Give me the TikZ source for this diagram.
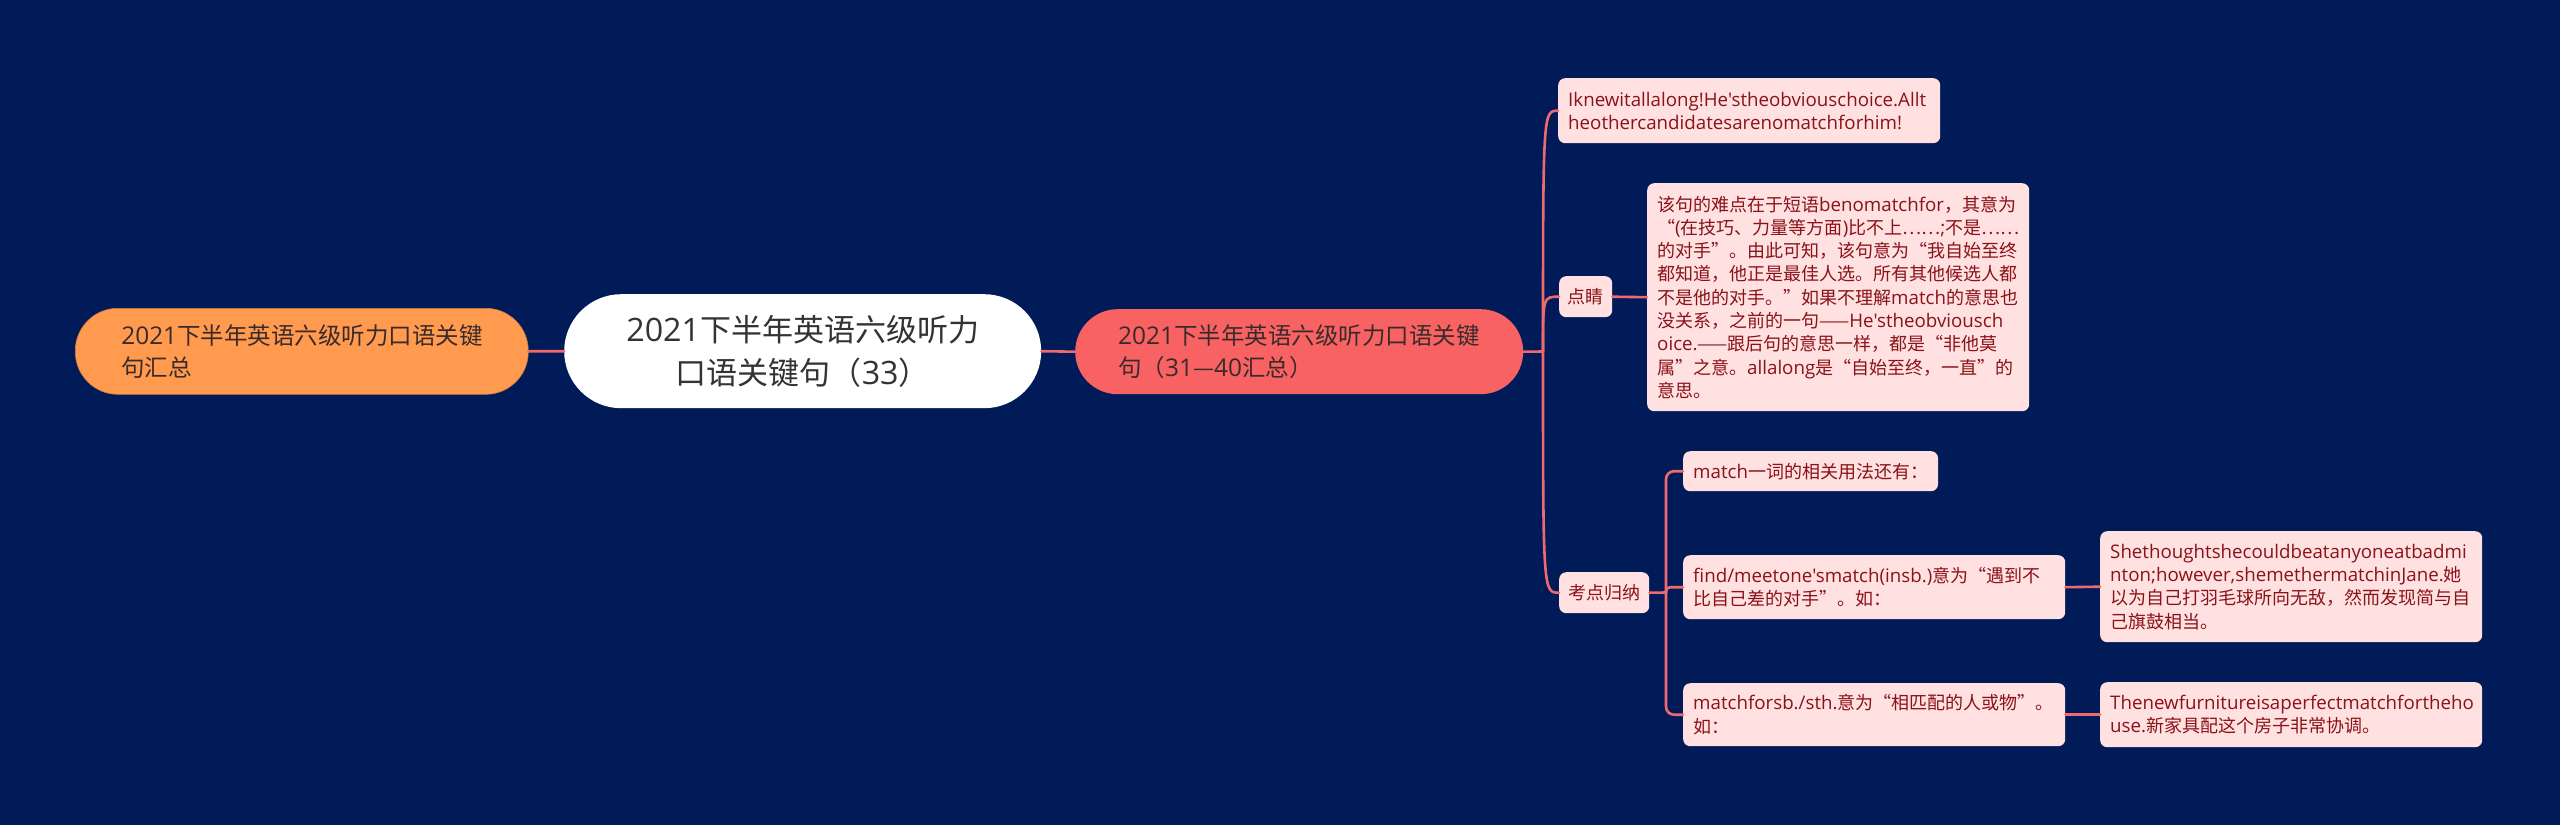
\documentclass[tikz,border=0pt]{standalone}
\usepackage{fontspec}
\setmainfont{Open Sans}[Scale=1.04, Ligatures=TeXOff]
\newfontfamily\cjkf{Noto Sans CJK SC}[Ligatures=TeXOff]
\newcommand\latf{\rmfamily}
% automatic font switch between Latin and CJK characters
\XeTeXinterchartokenstate=1
\newXeTeXintercharclass\CJKc
\newcount\clsn
\def\setcls#1#2{\clsn=#1\relax\loop\XeTeXcharclass\clsn=\CJKc\relax\advance\clsn by 1\relax\ifnum\clsn<#2\relax\repeat}
\setcls{"3000}{"3040}
\setcls{"4E00}{"A000}
\setcls{"FF00}{"FFF0}
\XeTeXcharclass"201C=\CJKc
\XeTeXcharclass"201D=\CJKc
\XeTeXcharclass"2014=\CJKc
\XeTeXcharclass"2026=\CJKc
\XeTeXinterchartoks 0 \CJKc = {\cjkf}
\XeTeXinterchartoks 4095 \CJKc = {\cjkf}
\XeTeXinterchartoks \CJKc 0 = {\latf}
\XeTeXinterchartoks \CJKc 4095 = {\latf}

\definecolor{bgc}{HTML}{011B58}
\definecolor{leafbg}{HTML}{FFE1E1}
\definecolor{leaftext}{HTML}{8A1218}
\definecolor{linec}{HTML}{F0696E}
\definecolor{orangec}{HTML}{FF9A4F}
\definecolor{redc}{HTML}{F86262}
\definecolor{maintext}{HTML}{3A2B2B}
\definecolor{centertext}{HTML}{333333}
\tikzset{
  leaf/.style={fill=leafbg, rounded corners=7pt, text=leaftext,
    font=\fontsize{18}{23.3}\selectfont, align=left,
    inner xsep=10pt, inner ysep=0pt, anchor=north west},
  pill/.style={rounded corners=42.5pt, text=maintext,
    font=\fontsize{23.5}{32}\selectfont, align=left,
    inner ysep=0pt, anchor=north west},
  conn/.style={draw=linec, line width=2.6pt, line cap=round}
}
\begin{document}
\begin{tikzpicture}[x=1pt,y=-1pt]
\fill[bgc] (0,0) rectangle (2560,825);
\useasboundingbox (0,0) rectangle (2560,825);

% main nodes
\node[pill, fill=orangec, draw=orangec!80!black, line width=0.6pt, text width=393pt, minimum height=86pt, inner xsep=30pt] (left) at (75,308)
  {\hspace*{16pt}2021下半年英语六级听力口语关键\\\hspace*{16pt}句汇总};
\node[fill=white, rounded corners=57pt, text=centertext, font=\fontsize{31}{43}\selectfont,
  align=center, text width=457pt, inner xsep=10pt, inner ysep=0pt, minimum height=114pt, anchor=north west] (center) at (564,294)
  {2021下半年英语六级听力\\口语关键句（33）};
\node[pill, fill=redc, text width=388pt, minimum height=85pt, inner xsep=30pt] (main) at (1075,309)
  {\hspace*{13pt}2021下半年英语六级听力口语关键\\\hspace*{13pt}句（31—40汇总）};

% leaves
\node[leaf, text width=362pt, minimum height=65pt] (a1) at (1558,78)
  {Iknewitallalong!He'stheobviouschoice.Allt\\heothercandidatesarenomatchforhim!};
\node[leaf, align=center, minimum height=41pt, minimum width=53pt, inner xsep=8pt] (dj) at (1559,276) {点睛};
\node[leaf, text width=362pt, minimum height=228pt] (djt) at (1647,183)
  {该句的难点在于短语benomatchfor，其意为\\
   “(在技巧、力量等方面)比不上……;不是……\\
   的对手”。由此可知，该句意为“我自始至终\\
   都知道，他正是最佳人选。所有其他候选人都\\
   不是他的对手。”如果不理解match的意思也\\
   没关系，之前的一句——He'stheobviousch\\
   oice.——跟后句的意思一样，都是“非他莫\\
   属”之意。allalong是“自始至终，一直”的\\
   意思。};
\node[leaf, align=center, minimum height=41pt, minimum width=90pt, inner xsep=8pt] (kd) at (1559,572) {考点归纳};
\node[leaf, minimum height=40pt] (m1) at (1683,451) {match一词的相关用法还有：};
\node[leaf, text width=362pt, minimum height=64pt] (m2) at (1683,555)
  {find/meetone'smatch(insb.)意为“遇到不\\比自己差的对手”。如：};
\node[leaf, text width=362pt, minimum height=63pt] (m3) at (1683,683)
  {matchforsb./sth.意为“相匹配的人或物”。\\如：};
\node[leaf, text width=362pt, minimum height=111pt] (e1) at (2100,531)
  {Shethoughtshecouldbeatanyoneatbadmi\\nton;however,shemethermatchinJane.她\\以为自己打羽毛球所向无敌，然而发现简与自\\己旗鼓相当。};
\node[leaf, text width=362pt, minimum height=65pt] (e2) at (2100,682)
  {Thenewfurnitureisaperfectmatchfortheho\\use.新家具配这个房子非常协调。};

% connectors
\draw[conn] (center.west) -- (left.east);
\draw[conn] (center.east) -- (main.west);
\coordinate (J) at (1543,351.5);
\draw[conn] (main.east) -- (J);
\draw[conn] (J) .. controls (J |- a1.west) and (J |- a1.west) .. (a1.west);
\draw[conn] (J) .. controls (J |- dj.west) and (J |- dj.west) .. (dj.west);
\draw[conn] (J) .. controls (J |- kd.west) and (J |- kd.west) .. (kd.west);
\draw[conn] (dj.east) -- (djt.west);
\coordinate (K) at (1666,592.5);
\draw[conn] (kd.east) -- (K);
\draw[conn, rounded corners=8pt] (K) |- (m1.west);
\draw[conn, rounded corners=4pt] (K) |- (m2.west);
\draw[conn, rounded corners=8pt] (K) |- (m3.west);
\draw[conn] (m2.east) -- (e1.west);
\draw[conn] (m3.east) -- (e2.west);
\end{tikzpicture}
\end{document}
